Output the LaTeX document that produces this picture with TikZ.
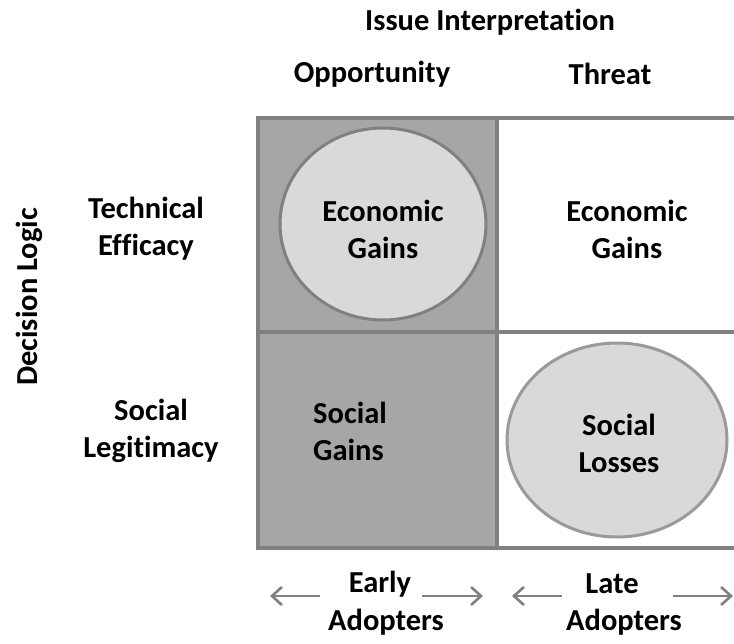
\documentclass[tikz,border=0pt]{standalone}
\usepackage{fontspec}
\setmainfont{Carlito}[Ligatures={NoCommon}]
\usetikzlibrary{arrows.meta,shapes.geometric}
\definecolor{frame}{HTML}{808080}
\definecolor{darkcell}{HTML}{A6A6A6}
\definecolor{bubble}{HTML}{D9D9D9}
\definecolor{bubbleline}{HTML}{9A9A9A}
\tikzset{
  lbl/.style={font=\fontsize{30.5}{37}\selectfont\bfseries, align=center, inner sep=0pt, text=black},
  gridline/.style={draw=frame, line width=4pt},
  bubbleshape/.style={ellipse, fill=bubble, line width=3pt, inner sep=0pt},
  hintarrow/.style={draw=frame, line width=2.6pt, -{Straight Barb[length=10pt,width=18pt]}}
}
\begin{document}
\begin{tikzpicture}[x=1pt,y=-1pt]
\useasboundingbox (0,0) rectangle (734,643);
% cells
\fill[darkcell] (258,118) rectangle (497,547);
\fill[white] (497,118) rectangle (740,547);
% bubbles
\node[bubbleshape, draw=frame, minimum width=206pt, minimum height=192pt] (b1) at (383,224) {};
\node[bubbleshape, draw=bubbleline, minimum width=220pt, minimum height=194pt] (b2) at (617,440) {};
% grid
\draw[gridline] (740,118) -- (258,118) -- (258,547.5) -- (740,547.5);
\draw[gridline] (497,118) -- (497,547.5);
\draw[gridline] (258,331.5) -- (740,331.5);
% headings
\node[lbl] (issue) at (490,22) {Issue Interpretation};
\node[lbl] (opp) at (372,74) {Opportunity};
\node[lbl] (threat) at (610,74) {Threat};
\node[lbl, rotate=90] (dl) at (29,297) {Decision Logic};
\node[lbl] (tech) at (146,229) {Technical\\Efficacy};
\node[lbl] (soc) at (151,431) {Social\\Legitimacy};
% cell texts
\node[lbl] (eg1) at (b1) [yshift=-5pt] {Economic\\Gains};
\node[lbl] (eg2) at (627,229) {Economic\\Gains};
\node[lbl, align=left, anchor=west] (sg) at (313,431) {Social\\Gains};
\node[lbl] (sl) at (619,443) {Social\\Losses};
% bottom
\node[lbl] (early) at (380,584) {Early};
\node[lbl] (ad1) at (386,622) {Adopters};
\node[lbl] (late) at (612,584) {Late};
\node[lbl] (ad2) at (624,622) {Adopters};
\coordinate (a1s) at (320,596); \coordinate (a1e) at (270,596);
\coordinate (a2s) at (422,596); \coordinate (a2e) at (483,596);
\coordinate (a3s) at (562,596); \coordinate (a3e) at (512,596);
\coordinate (a4s) at (673,596); \coordinate (a4e) at (733,596);
\draw[hintarrow] (a1s) -- (a1e);
\draw[hintarrow] (a2s) -- (a2e);
\draw[hintarrow] (a3s) -- (a3e);
\draw[hintarrow] (a4s) -- (a4e);
\end{tikzpicture}
\end{document}
